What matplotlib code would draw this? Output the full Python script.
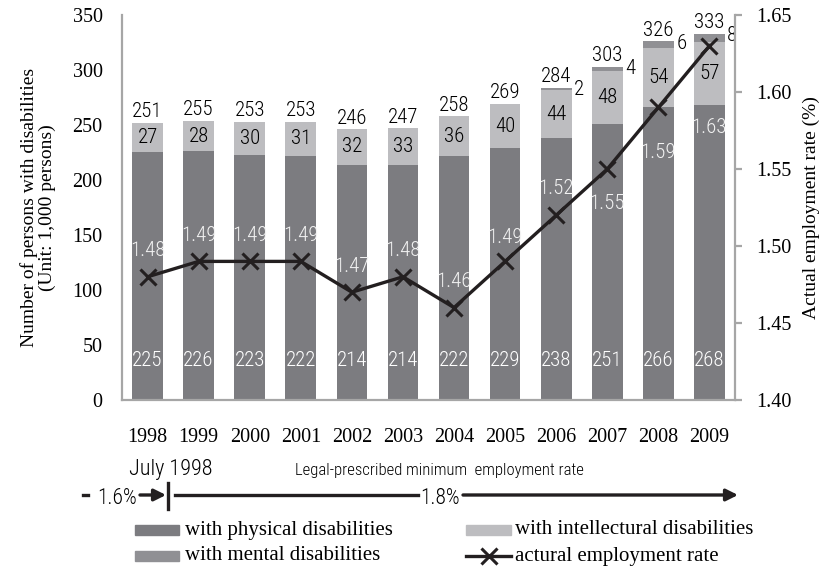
import matplotlib.pyplot as plt
from matplotlib import font_manager
from matplotlib.patches import Rectangle, FancyArrowPatch
from matplotlib.lines import Line2D
import numpy as np

# Data
years = ['1998', '1999', '2000', '2001', '2002', '2003',
         '2004', '2005', '2006', '2007', '2008', '2009']
physical = [225, 226, 223, 222, 214, 214, 222, 229, 238, 251, 266, 268]
intellectual = [27, 28, 30, 31, 32, 33, 36, 40, 44, 48, 54, 57]
mental = [0, 0, 0, 0, 0, 0, 0, 0, 2, 4, 6, 8]
totals = [251, 255, 253, 253, 246, 247, 258, 269, 284, 303, 326, 333]
rate = [1.48, 1.49, 1.49, 1.49, 1.47, 1.48, 1.46, 1.49, 1.52, 1.55, 1.59, 1.63]

# label offsets for the rate values (points, relative to marker)
rate_label_dy = [18.7, 18.7, 18.7, 18.7, 18.7, 18.7, 18.7, 17.5, 19, -24.5, -32.5, -59]

# Colors / fonts
c_phys = '#7c7c80'
c_intel = '#bdbdc0'
c_ment = '#909094'
c_line = '#231f20'
c_axis = '#a6a6a6'
serif = ['Liberation Serif', 'DejaVu Serif']

# pick a narrow sans font if one is installed
fonts = {(f.name, f.stretch) for f in font_manager.fontManager.ttflist}
names = {f[0] for f in fonts}
narrow, stretch, k = ['Roboto', 'DejaVu Sans'], 'normal', 0.85
for cand in ['Roboto Condensed', 'Liberation Sans Narrow', 'Open Sans Condensed',
             'Noto Sans Condensed', 'Arial Narrow']:
    if cand in names:
        narrow, stretch, k = [cand, 'DejaVu Sans'], 'normal', 1.0
        break
else:
    for n, st in fonts:
        if st in ('condensed', 'semi-condensed', 'extra-condensed', 75, 62.5, 87.5) \
                and n in ('Roboto', 'Open Sans', 'Noto Sans', 'DejaVu Sans', 'Inter'):
            narrow, stretch, k = [n, 'DejaVu Sans'], st, 1.0
            break
TXT = dict(family=narrow, fontstretch=stretch, fontweight='light')
nsize = 15 * k

W, H = 832, 570
fig = plt.figure(figsize=(W / 100, H / 100), dpi=100)
ax = fig.add_axes([122 / W, 1 - 400 / H, (735 - 122) / W, (400 - 15) / H])

x = np.arange(len(years))
bw = 0.6
phys = np.array(physical)
intel = np.array(intellectual)
ment = np.array(mental)

ax.bar(x, phys, bw, color=c_phys, zorder=2)
ax.bar(x, intel, bw, bottom=phys, color=c_intel, zorder=2)
ax.bar(x, ment, bw, bottom=phys + intel, color=c_ment, zorder=2)

ax.set_xlim(-0.5, len(years) - 0.5)
ax.set_ylim(0, 350)
ax.set_yticks(range(0, 351, 50))
ax.set_xticks(x)
ax.set_xticklabels(years)
for t in ax.get_xticklabels() + ax.get_yticklabels():
    t.set_family(serif)
    t.set_fontsize(14.5)
ax.tick_params(axis='x', length=0, pad=20)
ax.tick_params(axis='y', length=0, pad=14)

for s in ['top', 'right']:
    ax.spines[s].set_visible(False)
for s in ['left', 'bottom']:
    ax.spines[s].set_color(c_axis)
    ax.spines[s].set_linewidth(1.6)

# bar labels
for i in range(len(years)):
    top = phys[i] + intel[i] + ment[i]
    ax.text(x[i], top + 1.5, str(totals[i]), ha='center', va='bottom',
            fontsize=nsize, color='black', zorder=5, **TXT)
    ax.text(x[i], phys[i] + intel[i] / 2, str(intel[i]), ha='center', va='center',
            fontsize=nsize, color='black', zorder=5, **TXT)
    ax.text(x[i], 36, str(phys[i]), ha='center', va='center',
            fontsize=nsize, color='white', zorder=5, **TXT)
    if ment[i] > 0:
        ax.text(x[i] + bw / 2 + 0.05, top - 2, str(ment[i]), ha='left', va='center',
                fontsize=nsize, color='black', zorder=5, **TXT)

ax.set_ylabel('Number of persons with disabilities\n(Unit: 1,000 persons)',
              family=serif, fontsize=14, labelpad=12, linespacing=1.0)

# rate line on right axis
ax2 = ax.twinx()
ax2.set_ylim(1.40, 1.65)
ax2.set_yticks(np.arange(1.40, 1.651, 0.05))
ax2.set_yticklabels(['%.2f' % v for v in np.arange(1.40, 1.651, 0.05)])
for t in ax2.get_yticklabels():
    t.set_family(serif)
    t.set_fontsize(14.5)
ax2.tick_params(axis='y', length=5, width=1.6, color=c_axis, pad=10)
for s in ['top', 'left', 'bottom']:
    ax2.spines[s].set_visible(False)
ax2.spines['right'].set_color(c_axis)
ax2.spines['right'].set_linewidth(1.6)
ax2.plot(x, rate, color=c_line, lw=2.4, marker='x', ms=11, mew=2.2, zorder=6)
for i in range(len(years)):
    ax2.annotate('%.2f' % rate[i], (x[i], rate[i]), xytext=(0, rate_label_dy[i]),
                 textcoords='offset points', ha='center', va='center',
                 fontsize=nsize, color='#f2f2f2', zorder=7, **TXT)
ax2.set_ylabel('Actual employment rate (%)', family=serif, fontsize=14,
               labelpad=8)


# bottom annotation (figure pixel coordinates)
def fp(px, py):
    return (px / W, 1 - py / H)


def fline(x0, x1, y0, y1, lw=2.4):
    fig.add_artist(Line2D([x0 / W, x1 / W], [1 - y0 / H, 1 - y1 / H],
                          color=c_line, lw=lw, transform=fig.transFigure))


def farrow(x0, x1, y):
    fig.add_artist(FancyArrowPatch(fp(x0, y), fp(x1, y), transform=fig.transFigure,
                                   arrowstyle='-|>,head_length=7,head_width=3.5',
                                   color=c_line, lw=2.4, shrinkA=0, shrinkB=0))


fig.text(*fp(171, 470), 'July 1998', ha='center', va='center',
         fontsize=16 * k, **TXT)
fig.text(*fp(439, 471), 'Legal-prescribed minimum  employment rate', ha='center',
         va='center', fontsize=12 * k, **TXT)
fline(83, 88, 495, 495)
fig.text(*fp(117, 499), '1.6%', ha='center', va='center', fontsize=15.5 * k, **TXT)
farrow(140, 166, 495)
fline(168, 168, 483, 509)
fline(175, 418, 495, 495)
fig.text(*fp(440, 498), '1.8%', ha='center', va='center', fontsize=15.5 * k, **TXT)
farrow(463, 738, 495)


# legend
def fpatch(x0, x1, yc, color):
    fig.add_artist(Rectangle(fp(x0, yc + 5), (x1 - x0) / W, 10 / H, color=color,
                             transform=fig.transFigure))


LEG = dict(ha='left', va='center', fontsize=15, family=serif)
fpatch(135, 179, 530, c_phys)
fig.text(*fp(185, 530), 'with physical disabilities', **LEG)
fpatch(135, 179, 556, c_ment)
fig.text(*fp(185, 556), 'with mental disabilities', **LEG)
fpatch(466, 511, 530, c_intel)
fig.text(*fp(515, 530), 'with intellectural disabilities', **LEG)
fig.add_artist(Line2D([466 / W, 511 / W], [1 - 556 / H, 1 - 556 / H], color=c_line,
                      lw=2.4, transform=fig.transFigure))
fig.add_artist(Line2D([488.5 / W], [1 - 556 / H], color=c_line, marker='x', ms=11,
                      mew=2.2, transform=fig.transFigure))
fig.text(*fp(515, 556), 'actural employment rate', **LEG)

fig.savefig('out.png', dpi=100)
